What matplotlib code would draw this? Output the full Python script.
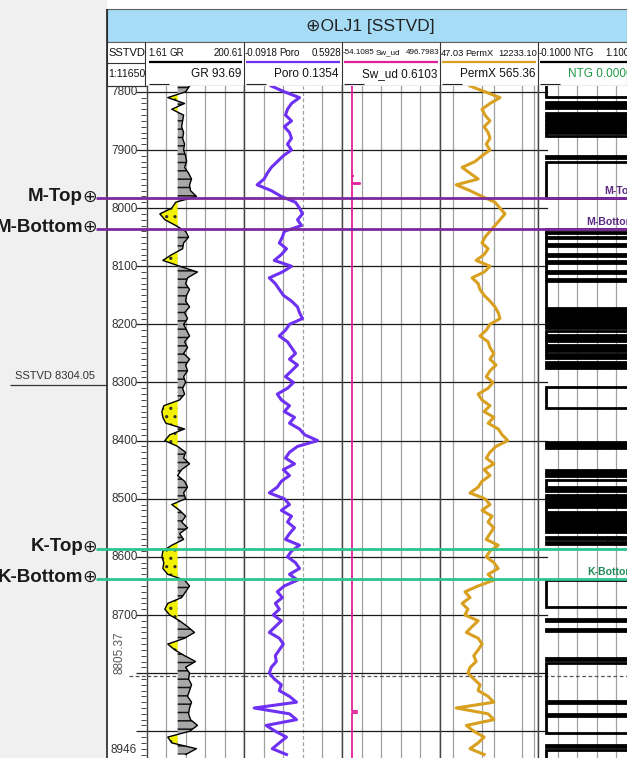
import numpy as np
import matplotlib.pyplot as plt
from matplotlib.patches import Rectangle

W, H = 627, 758
FONT = ['Liberation Sans', 'DejaVu Sans']
plt.rcParams['font.family'] = FONT
plt.rcParams['hatch.linewidth'] = 1.1

# depth window of the log view (ft, SSTVD)
top_depth, base_depth = 7790, 8946
depth = np.arange(7790, 8941, 10)

# curves, one value every 10 ft
gr = [88.9, 80.8, 44.2, 78.7, 52.4, 76.7, 74.7, 72.7, 76.7, 74.7,
      78.7, 76.7, 80.8, 82.8, 78.7, 86.9, 93.0, 88.9, 90.9, 103.1,
      60.5, 52.4, 28.0, 38.2, 60.5, 80.8, 86.9, 76.7, 74.7, 52.4,
      34.1, 68.6, 105.1, 84.8, 80.8, 88.9, 82.8, 80.8, 88.9, 78.7,
      84.8, 76.7, 82.8, 88.9, 78.7, 84.8, 76.7, 88.9, 80.8, 84.8,
      76.7, 80.8, 74.7, 78.7, 68.6, 36.1, 32.1, 34.1, 40.2, 78.7,
      48.3, 38.2, 64.5, 80.8, 76.7, 88.9, 72.7, 64.5, 78.7, 84.8,
      76.7, 80.8, 52.4, 68.6, 80.8, 72.7, 84.8, 68.6, 76.7, 52.4,
      34.1, 32.1, 36.1, 34.1, 44.2, 78.7, 88.9, 80.8, 72.7, 44.2,
      38.2, 48.3, 68.6, 84.8, 99.0, 78.7, 44.2, 58.5, 78.7, 101.1,
      80.8, 88.9, 86.9, 93.0, 88.9, 84.8, 93.0, 88.9, 86.9, 90.9,
      105.1, 88.9, 44.2, 52.4, 103.1, 80.8]
poro = [0.099, 0.190, 0.296, 0.240, 0.212, 0.198, 0.240, 0.190, 0.226, 0.240,
        0.212, 0.240, 0.183, 0.141, 0.099, 0.071, 0.049, 0.000, 0.099, 0.169,
        0.268, 0.296, 0.317, 0.282, 0.310, 0.190, 0.176, 0.155, 0.205, 0.169,
        0.120, 0.240, 0.176, 0.085, 0.127, 0.155, 0.183, 0.240, 0.282, 0.296,
        0.317, 0.226, 0.198, 0.155, 0.212, 0.240, 0.268, 0.226, 0.282, 0.240,
        0.198, 0.254, 0.212, 0.141, 0.169, 0.226, 0.190, 0.261, 0.226, 0.296,
        0.332, 0.423, 0.282, 0.226, 0.198, 0.261, 0.183, 0.226, 0.169, 0.141,
        0.085, 0.190, 0.226, 0.169, 0.240, 0.212, 0.261, 0.226, 0.198, 0.296,
        0.240, 0.212, 0.268, 0.296, 0.226, 0.282, 0.190, 0.141, 0.176, 0.127,
        0.155, 0.113, 0.169, 0.127, 0.085, 0.155, 0.183, 0.155, 0.127, 0.134,
        0.099, 0.085, 0.120, 0.169, 0.155, 0.226, 0.275, -0.021, 0.226, 0.275,
        0.063, 0.127, 0.205, 0.155, 0.106, 0.205]
permx = [258, 604, 1415, 802, 510, 604, 802, 575, 720, 802,
         650, 802, 510, 343, 165, 258, 410, 118, 258, 510,
         1065, 1415, 1880, 1415, 1065, 802, 604, 510, 720, 575,
         365, 802, 575, 290, 410, 455, 575, 802, 1065, 1280,
         1415, 802, 650, 455, 720, 802, 1000, 802, 1130, 802,
         650, 950, 720, 410, 510, 802, 575, 1000, 720, 1280,
         1600, 2200, 1130, 802, 650, 1000, 575, 802, 510, 410,
         258, 604, 802, 510, 900, 720, 1000, 802, 650, 1280,
         802, 650, 1000, 1280, 720, 1000, 410, 194, 258, 165,
         230, 194, 410, 290, 210, 410, 510, 410, 320, 365,
         258, 230, 320, 455, 410, 720, 1000, 118, 720, 1000,
         210, 320, 575, 410, 258, 575]
sw_depth = [7790, 7944, 7944, 7945, 7945, 7957, 7957, 7959, 7959, 8866, 8866, 8868, 8868, 8946]
sw = [0.6103, 0.6103, 6.0, 6.0, 0.6103, 0.6103, 47.0, 47.0, 0.6103, 0.6103, 30.0, 30.0, 0.6103, 0.6103]

# NTG flips between 0 and 1 at these depths (starts at 0)
ntg_switch = [7809, 7817, 7821, 7824, 7828,
              7836, 7840, 7843, 7847, 7850, 7854, 7857, 7860, 7864, 7867, 7871, 7876,
              7910, 7914, 7921, 7983, 8036, 8041, 8043, 8050, 8051, 8062, 8065,
              8079, 8082, 8091, 8094, 8108, 8112, 8122, 8125,
              8172, 8175, 8179, 8182, 8185, 8189, 8192, 8196, 8199, 8203, 8206, 8211,
              8218, 8222, 8225, 8228, 8235, 8239, 8242, 8246, 8251, 8254, 8258,
              8265, 8268, 8271, 8275,
              8308, 8344, 8402, 8406, 8409, 8413, 8450, 8454, 8457, 8461, 8468,
              8480, 8483, 8487, 8493, 8497, 8500, 8504, 8507, 8511, 8514,
              8523, 8526, 8530, 8533, 8536, 8540, 8543, 8547, 8550, 8554, 8557,
              8566, 8569, 8574, 8578,
              8640, 8686, 8707, 8710, 8724, 8727, 8774, 8777, 8782,
              8848, 8851, 8870, 8874, 8903, 8923, 8927, 8932]

tops = ['M-Top', 'M-Bottom', 'K-Top', 'K-Bottom']
top_depths = [7983, 8036, 8586, 8638]
top_colors = ['#7b2a9e', '#7b2a9e', '#2bc48c', '#2bc48c']
top_text_colors = ['#5b2a80', '#5b2a80', '#1f8a55', '#1f8a55']
gr_cut = 64.5
sstvd_mark = 8304.05
center_depth = 8805.37
depth_labels = [7800, 7900, 8000, 8100, 8200, 8300, 8400, 8500, 8600, 8700]

# header: name, min, max, current reading, colour
curves = [('GR', '1.61', '200.61', 'GR 93.69', 'black'),
          ('Poro', '-0.0918', '0.5928', 'Poro 0.1354', '#6e30f2'),
          ('Sw_ud', '-54.1085', '496.7983', 'Sw_ud 0.6103', '#e0209a'),
          ('PermX', '47.03', '12233.10', 'PermX 565.36', '#d9a020'),
          ('NTG', '-0.1000', '1.1000', 'NTG 0.0000', 'black')]
track_x = [147, 244, 342, 440, 538, 636]

fig = plt.figure(figsize=(W / 100, H / 100), dpi=100)


def px_axes(x0, x1, y0=86, y1=H, **kw):
    return fig.add_axes([x0 / W, 1 - y1 / H, (x1 - x0) / W, (y1 - y0) / H], **kw)


# background / header layer in pixel units
bg = fig.add_axes([0, 0, 1, 1], zorder=0)
bg.set_xlim(0, W)
bg.set_ylim(H, 0)
bg.axis('off')
bg.add_patch(Rectangle((0, 0), 107, H, fc='#f0f0f0', ec='none'))
bg.add_patch(Rectangle((107, 9), 520, 33, fc='#a6dcf6', ec='#606060', lw=0.8))
bg.add_patch(Rectangle((107, 42), 520, 44, fc='white', ec='#606060', lw=0.8))
bg.text(370, 26, '\u2295OLJ1 [SSTVD]', ha='center', va='center', fontsize=12.5, color='#222')
bg.vlines([145] + track_x[1:5], 42, 86, color='#333', lw=0.8)
bg.vlines(107, 9, H, color='#222', lw=1.2)
bg.hlines(86, 107, W, color='#333', lw=0.8)
bg.text(108, 53, 'SSTVD', ha='left', va='center', fontsize=8, color='#111')
bg.text(108, 74, '1:11650', ha='left', va='center', fontsize=7.6, color='#111')
bg.hlines(63, 107, 145, color='#333', lw=0.8)

mid_off = [22, 35, 34, 25, 35]
for i, (name, lo, hi, reading, col) in enumerate(curves):
    x0, x1 = track_x[i], track_x[i + 1]
    fs = 5.8 if name == 'Sw_ud' else 7
    if name == 'PermX':
        fs = 6.7
    bg.text(x0 + 1, 53, lo, ha='left', va='center', fontsize=fs, color='#111')
    bg.text(x0 + mid_off[i], 53, name, ha='left', va='center', fontsize=fs, color='#111')
    bg.text(x1 - 1, 53, hi, ha='right', va='center', fontsize=fs, color='#111')
    bg.hlines(62, x0 + 2, x1 - 2, color=col, lw=1.6)
    rc = '#1f9a45' if name == 'NTG' else '#111'
    bg.text(x1 - 3, 74, reading, ha='right', va='center', fontsize=8.5, color=rc)
    bg.hlines(84, x0 + 2, x0 + 22, color='#222', lw=0.8)


def track(x0, x1, xlim, scale='linear'):
    ax = px_axes(x0, x1, zorder=2)
    ax.set_xscale(scale)
    ax.set_xlim(*xlim)
    ax.set_ylim(base_depth, top_depth)
    ax.tick_params(which='both', bottom=False, left=False, labelbottom=False, labelleft=False)
    for s in ['top', 'bottom']:
        ax.spines[s].set_visible(False)
    for s in ['left', 'right']:
        ax.spines[s].set_color('#444')
        ax.spines[s].set_linewidth(1.0)
    return ax


def grid_lines(ax, xs, dashed_idx=None, xmax=1.0):
    for k, xv in enumerate(xs):
        ls = (0, (3, 2)) if k == dashed_idx else '-'
        ax.axvline(xv, color='#a0a0a0', lw=0.9, ls=ls, zorder=1)
    for d in range(7800, 8901, 100):
        ax.axhline(d, color='#1a1a1a', lw=0.9, zorder=1.5, xmax=xmax)
    ax.axhline(center_depth, color='#555', lw=0.9, ls=(0, (3, 2)), zorder=1.5)


fr = [0.2, 0.4, 0.6, 0.8]

# depth track
axd = px_axes(107, 147, zorder=2, facecolor='#e4e4e4')
axd.set_xlim(0, 1)
axd.set_ylim(base_depth, top_depth)
axd.axis('off')
ytr = axd.get_yaxis_transform()
axd.hlines(np.arange(7800, 8941, 10), 0.86, 0.98, color='#444', lw=0.7)
for d in range(7800, 8901, 100):
    axd.hlines(d, 0.72, 1.0, color='#222', lw=0.9)
for d in depth_labels:
    axd.text(0.1, d + 1, str(d), transform=ytr, ha='left', va='center', fontsize=8.5,
             color='#333', clip_on=True)
axd.text(0.08, base_depth - 3, '8946', transform=ytr, ha='left', va='bottom', fontsize=8.5, color='#333')
axd.hlines(center_depth, 0.55, 1.0, color='#555', lw=0.9, linestyles=(0, (3, 2)))
axd.text(0.32, center_depth - 4, '%.2f' % center_depth, transform=ytr, rotation=90,
         ha='center', va='bottom', fontsize=8.5, color='#555')

# GR
ax = track(147, 244, (1.61, 200.61))
grid_lines(ax, [1.61 + f * 199 for f in fr])
g = np.array(gr)
ax.fill_betweenx(depth, g, gr_cut, where=g >= gr_cut, interpolate=True,
                 facecolor='#a8a8a8', edgecolor='#151515', hatch='--', lw=0, zorder=2)
ax.fill_betweenx(depth, g, gr_cut, where=g < gr_cut, interpolate=True,
                 facecolor='#f2f200', edgecolor='#303030', hatch='..', lw=0, zorder=2)
ax.plot(g, depth, color='black', lw=1.0, zorder=3)

# Poro
ax = track(244, 342, (-0.0918, 0.5928))
grid_lines(ax, [-0.0918 + f * 0.6846 for f in fr], dashed_idx=2)
ax.plot(poro, depth, color='#6e30f2', lw=2.2, zorder=3)

# Sw
ax = track(342, 440, (-54.1085, 496.7983))
grid_lines(ax, [-54.1085 + f * 550.9068 for f in fr])
ax.plot(sw, sw_depth, color='#e0209a', lw=1.3, zorder=3)

# PermX (log)
ax = track(440, 538, (47.03, 12233.10), scale='log')
grid_lines(ax, [100, 500, 1000, 5000, 10000])
ax.plot(permx, depth, color='#d9a020', lw=2.2, zorder=3)

# NTG
ax = track(538, 636, (-0.1, 1.1))
ax.spines['right'].set_visible(False)
grid_lines(ax, [-0.1 + f * 1.2 for f in fr], xmax=0.09)
v = 0
nx, ny = [0], [top_depth]
for t in ntg_switch:
    nx += [v, 1 - v]
    ny += [t, t]
    v = 1 - v
nx.append(v)
ny.append(base_depth)
ax.plot(nx, ny, color='black', lw=2.0, zorder=3, solid_joinstyle='miter')
ntr = ax.get_yaxis_transform()
for name, d, tc in zip(tops, top_depths, top_text_colors):
    ax.text(0.99, d - 4, name, transform=ntr, ha='right', va='bottom', fontsize=7.6,
            fontweight='bold', color=tc, zorder=2)

# overlay: formation tops and left panel labels
ov = px_axes(0, W, zorder=5)
ov.set_xlim(0, W)
ov.set_ylim(base_depth, top_depth)
ov.axis('off')
ov.patch.set_alpha(0)
for name, d, c in zip(tops, top_depths, top_colors):
    ov.hlines(d, 96, W, color=c, lw=2.0)
    ov.text(83, d - 3, name, ha='right', va='center', fontsize=13.5, fontweight='bold', color='#1a1a1a')
    ov.text(90, d - 3, '\u2295', ha='center', va='center', fontsize=12.5, color='#1a1a1a',
            family='DejaVu Sans')
ov.hlines(sstvd_mark, 10, 107, color='#333', lw=0.9)
ov.text(95, sstvd_mark - 6, 'SSTVD %.2f' % sstvd_mark, ha='right', va='bottom', fontsize=8, color='#333')

fig.savefig('out.png', dpi=100)
